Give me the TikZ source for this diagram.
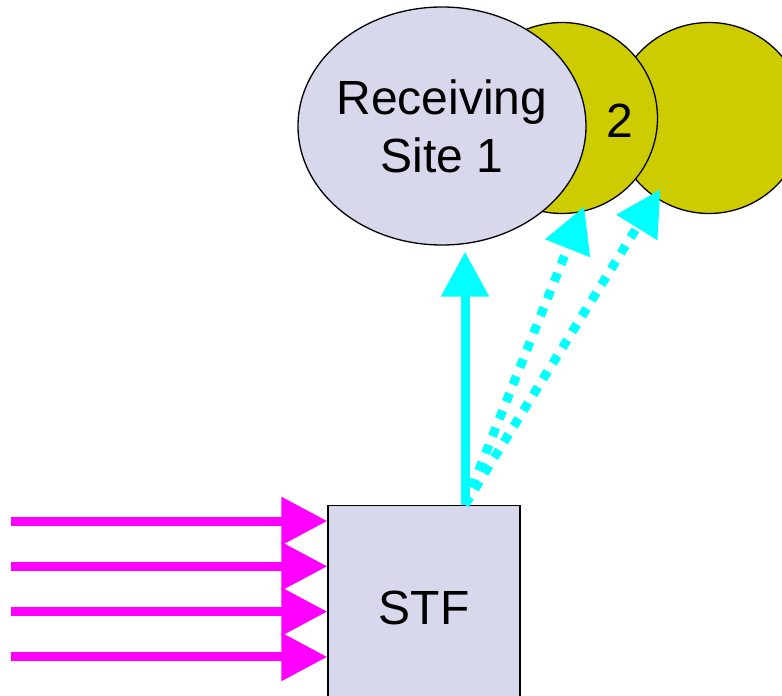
\documentclass[tikz,border=0pt]{standalone}
\usepackage{fontspec}
\setmainfont{Liberation Sans}
\usetikzlibrary{shapes.geometric,arrows.meta}
\definecolor{siteblue}{RGB}{216,216,236}
\definecolor{siteolive}{RGB}{204,204,0}
\definecolor{feedpink}{RGB}{255,0,255}
\definecolor{linkcyan}{RGB}{0,255,255}
\begin{document}
\begin{tikzpicture}[x=1pt,y=-1pt,
      every node/.style={font=\fontsize{48}{58}\selectfont, align=center},
      site/.style={draw, line width=1.3pt, fill=siteolive, circle, minimum size=191pt, inner sep=0pt},
      home/.style={draw, line width=1.3pt, fill=siteblue, ellipse, minimum width=288pt, minimum height=238pt, inner sep=-5pt},
      stfbox/.style={draw, line width=1.3pt, fill=siteblue, minimum width=192pt, minimum height=204pt},
      feed/.style={line width=9pt, feedpink, -{Triangle[length=46pt,width=46pt]}},
      link/.style={line width=9pt, linkcyan, -{Triangle[length=45pt,width=46pt]}},
      maybe/.style={link, dash pattern=on 9pt off 9.5pt}]
    \useasboundingbox (0,0) rectangle (782,696);
    \node[site] (site3) at (709,118) {};
    \node[site] (site2) at (562,118) {};
    \node (lbl2) at (620,121) {2};
    \node[home] (site1) at (442,126) {Receiving\\Site 1};
    \node[stfbox] (stf) at (424,607.5) {STF};
    \foreach \n/\y in {1/521,2/566.3,3/611.6,4/656.9}{
      \coordinate (in\n) at (11,\y);
      \draw[feed] (in\n) -- (in\n -| stf.west);
    }
    \coordinate (src) at ([xshift=41pt]stf.north);
    \draw[link] (src) -- ([yshift=-6pt]src |- site1.south);
    \draw[maybe, shorten >=-6pt] (src) -- (site2.-78);
    \draw[maybe, shorten >=-10pt] (src) -- (site3.-124);
\end{tikzpicture}
\end{document}
